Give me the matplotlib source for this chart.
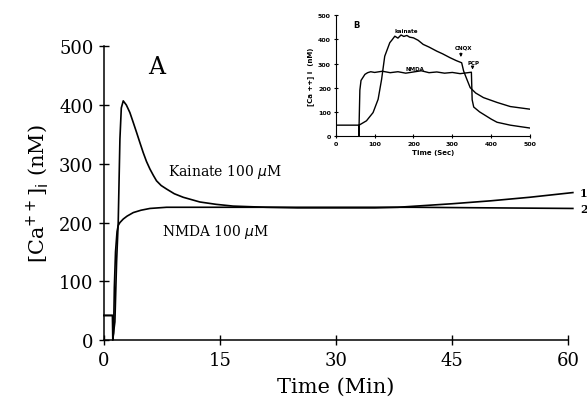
import matplotlib
matplotlib.use("Agg")
import matplotlib.pyplot as plt

# ---- main panel (A): time in minutes, [Ca++]i in nM ----
kain_t = [0, 1.15, 1.2, 1.42, 1.64, 1.85, 2.07, 2.25, 2.5, 2.9, 3.36, 3.8, 4.23,
          4.65, 5.08, 5.5, 5.95, 6.4, 6.8, 7.4, 8.1, 9.1, 10.25, 12.4, 14.5, 16.7,
          21, 25, 30, 35, 38, 45, 50, 55, 60.6]
kain_v = [42, 42, 8, 31, 133, 200, 342, 395, 407, 400, 387, 370, 353,
          336, 319, 304, 291, 280, 271, 263, 257, 249, 243, 235, 231, 228,
          226, 225, 225, 225, 226, 232, 237, 243, 251]

nmda_t = [0, 1.1, 1.15, 1.25, 1.35, 1.5, 1.7, 1.85, 2.07, 2.5, 3.0, 3.8, 4.8,
          5.95, 8.1, 12, 20, 30, 40, 50, 60.6]
nmda_v = [42, 42, 0, 12, 90, 150, 185, 195, 200, 206, 211, 217, 221,
          224, 226, 226, 226, 226, 226, 225, 224]

# ---- inset (B): time in seconds ----
kain_b_t = [0, 60, 60, 60, 79, 96, 109, 118, 126, 139, 145, 152, 160, 168, 175, 183,
            190, 200, 212, 225, 240, 260, 275, 294, 310, 324, 329, 338, 346,
            360, 380, 415, 449, 500]
kain_b_v = [45, 45, 0, 45, 63, 97, 152, 235, 330, 386, 398, 413, 405, 418, 412, 416,
            409, 406, 396, 379, 368, 351, 340, 324, 312, 303, 269, 232, 200,
            178, 159, 139, 122, 111]

nmda_b_t = [60, 62, 65, 75, 82, 90, 100, 120, 140, 160, 180, 200, 220, 240, 260,
            280, 300, 320, 340, 349, 351, 355, 370, 380, 400, 415, 449, 470, 500]
nmda_b_v = [45, 190, 230, 255, 262, 266, 263, 268, 262, 266, 260, 265, 270, 262, 265,
            260, 263, 258, 262, 264, 150, 120, 100, 90, 70, 57, 45, 40, 33]

main_xticks = [0, 15, 30, 45, 60]
main_yticks = [0, 100, 200, 300, 400, 500]
inset_ticks = [0, 100, 200, 300, 400, 500]

serif = "DejaVu Serif"

fig = plt.figure(figsize=(5.87, 4.14), dpi=100)
ax = fig.add_axes([0.177, 0.176, 0.791, 0.710])

ax.plot(kain_t, kain_v, color="black", lw=1.2, clip_on=False)
ax.plot(nmda_t, nmda_v, color="black", lw=1.2, clip_on=False)

ax.set_xlim(0, 60)
ax.set_ylim(0, 500)
ax.set_xticks(main_xticks)
ax.set_yticks(main_yticks)
for s in ["top", "right"]:
    ax.spines[s].set_visible(False)
for s in ["left", "bottom"]:
    ax.spines[s].set_linewidth(1.1)
ax.tick_params(direction="inout", length=7, width=1, labelsize=13, pad=4)
for lab in ax.get_xticklabels() + ax.get_yticklabels():
    lab.set_family(serif)

ax.set_xlabel("Time (Min)", fontsize=15, family=serif, labelpad=6)
ax.set_ylabel(r"[Ca$^{++}$]$_{\rm i}$ (nM)", fontsize=15, family=serif, labelpad=6)

ax.text(5.7, 455, "A", fontsize=17, family=serif)
ax.text(8.3, 287, r"Kainate 100 $\mu$M", fontsize=10, family=serif, va="center")
ax.text(7.5, 186, "NMDA 100 $\\mu$M", fontsize=10, family=serif, va="center")
ax.text(61.5, 251, "1", fontsize=8, fontweight="bold", family=serif, va="center",
        clip_on=False)
ax.text(61.5, 224, "2", fontsize=8, fontweight="bold", family=serif, va="center",
        clip_on=False)

# ---- inset ----
ins = fig.add_axes([0.572, 0.669, 0.331, 0.292])
ins.plot(kain_b_t, kain_b_v, color="black", lw=1.0)
ins.plot(nmda_b_t, nmda_b_v, color="black", lw=1.0)
ins.set_xlim(0, 500)
ins.set_ylim(0, 500)
ins.set_xticks(inset_ticks)
ins.set_yticks(inset_ticks)
for s in ["top", "right"]:
    ins.spines[s].set_visible(False)
ins.tick_params(direction="inout", length=3, width=0.8, labelsize=4.5, pad=2)
for lab in ins.get_xticklabels() + ins.get_yticklabels():
    lab.set_fontweight("bold")
ins.set_xlabel("Time (Sec)", fontsize=5, fontweight="bold", labelpad=2)
ins.set_ylabel("[Ca ++] i  (nM)", fontsize=5, fontweight="bold", labelpad=3)
ins.patch.set_alpha(0)

ins.text(45, 450, "B", fontsize=6, fontweight="bold")
ins.text(150, 430, "kainate", fontsize=4, fontweight="bold")
ins.text(180, 275, "NMDA", fontsize=4, fontweight="bold")
ins.text(305, 360, "CNQX", fontsize=4, fontweight="bold")
ins.annotate("", xy=(322, 315), xytext=(322, 355),
             arrowprops=dict(arrowstyle="-|>", lw=0.8, color="black", mutation_scale=4))
ins.text(340, 300, "PCP", fontsize=4, fontweight="bold")
ins.annotate("", xy=(352, 275), xytext=(352, 297),
             arrowprops=dict(arrowstyle="-|>", lw=0.8, color="black", mutation_scale=4))

fig.savefig("out.png", dpi=100)
